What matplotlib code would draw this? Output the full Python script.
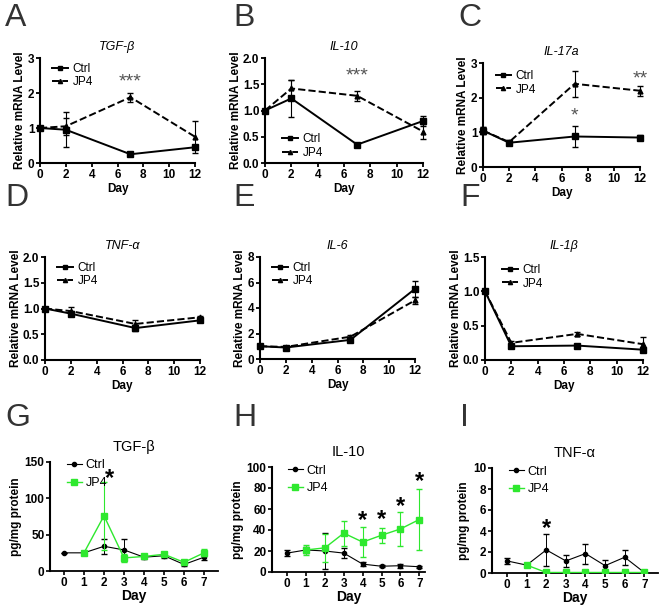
import numpy as np
import matplotlib
matplotlib.use('Agg')
import matplotlib.pyplot as plt
from matplotlib.lines import Line2D

plt.rcParams['font.family'] = ['Liberation Sans', 'DejaVu Sans']

# ---- mRNA panels (A-F): days 0, 2, 7, 12
days_mrna = [0, 2, 7, 12]

tgf_ctrl = [1.0, 0.95, 0.25, 0.45]
tgf_ctrl_err = [0.0, 0.5, 0.03, 0.06]
tgf_jp4 = [1.0, 1.05, 1.88, 0.75]
tgf_jp4_err = [0.0, 0.25, 0.13, 0.45]

il10_ctrl = [1.0, 1.23, 0.35, 0.8]
il10_ctrl_err = [0.0, 0.35, 0.02, 0.1]
il10_jp4 = [1.0, 1.42, 1.28, 0.6]
il10_jp4_err = [0.0, 0.16, 0.1, 0.15]

il17_ctrl = [1.05, 0.7, 0.88, 0.85]
il17_ctrl_err = [0.1, 0.05, 0.3, 0.07]
il17_jp4 = [1.05, 0.72, 2.4, 2.2]
il17_jp4_err = [0.1, 0.05, 0.37, 0.15]

tnf_ctrl = [1.0, 0.9, 0.62, 0.77]
tnf_ctrl_err = [0.0, 0.05, 0.05, 0.03]
tnf_jp4 = [1.0, 0.95, 0.7, 0.83]
tnf_jp4_err = [0.0, 0.07, 0.08, 0.03]

il6_ctrl = [1.0, 0.9, 1.5, 5.5]
il6_ctrl_err = [0.1, 0.05, 0.1, 0.6]
il6_jp4 = [1.0, 0.95, 1.75, 4.6]
il6_jp4_err = [0.1, 0.05, 0.1, 0.3]

il1_ctrl = [1.0, 0.2, 0.21, 0.15]
il1_ctrl_err = [0.0, 0.02, 0.01, 0.02]
il1_jp4 = [1.0, 0.25, 0.38, 0.23]
il1_jp4_err = [0.0, 0.02, 0.03, 0.1]

# ---- protein panels (G-I): days 0..7 (JP4 from day 1)
days_prot = [0, 1, 2, 3, 4, 5, 6, 7]
days_jp4 = [1, 2, 3, 4, 5, 6, 7]

g_ctrl = [25, 25, 34, 29, 19, 21, 9, 19]
g_ctrl_err = [0, 0, 10, 15, 3, 3, 2, 4]
g_jp4 = [25, 76, 18, 20, 23, 12, 25]
g_jp4_err = [0, 47, 6, 2, 3, 2, 5]

h_ctrl = [18, 21, 20, 18, 7.5, 5.5, 6, 5]
h_ctrl_err = [3, 3, 17, 5, 2, 1, 2, 1]
h_jp4 = [21, 23, 37, 28.5, 35, 41, 50]
h_jp4_err = [5, 13, 12, 14, 7, 16, 29]

i_ctrl = [1.15, 0.75, 2.2, 1.15, 1.85, 0.7, 1.5, 0.05]
i_ctrl_err = [0.3, 0.1, 1.5, 0.6, 0.95, 0.55, 0.7, 0]
i_jp4 = [0.75, 0.05, 0.05, 0.05, 0.05, 0.05, 0.05]
i_jp4_err = [0.1, 0, 0, 0, 0, 0, 0]

GREEN = '#2ee82e'
W, H = 660, 605
fig = plt.figure(figsize=(6.6, 6.05), dpi=100)


def px_axes(l, t, r, b):
    return fig.add_axes([l / W, 1 - b / H, (r - l) / W, (b - t) / H])


def letter(x, y, s):
    fig.text(x / W, 1 - y / H, s, fontsize=23, color='#333333', va='top', ha='left')


def mrna_panel(box, title, ctrl, ctrl_err, jp4, jp4_err, ylim, yticks, fmt, leg_xy):
    ax = px_axes(*box)
    ax.errorbar(days_mrna, ctrl, yerr=ctrl_err, color='black', lw=1.4, marker='s', ms=4,
                capsize=2.5, elinewidth=0.8, clip_on=False, zorder=3)
    ax.errorbar(days_mrna, jp4, yerr=jp4_err, color='black', lw=1.4, ls='--', marker='^', ms=3.5,
                capsize=2.5, elinewidth=0.8, clip_on=False, zorder=3)
    ax.set_xlim(0, 12)
    ax.set_xticks([0, 2, 4, 6, 8, 10, 12])
    ax.set_ylim(*ylim)
    ax.set_yticks(yticks)
    ax.set_yticklabels([fmt.format(v) for v in yticks])
    for s in ['top', 'right']:
        ax.spines[s].set_visible(False)
    for s in ['left', 'bottom']:
        ax.spines[s].set_linewidth(1.5)
    ax.tick_params(width=1.3, length=3, labelsize=8.5, pad=1)
    for lab in ax.get_xticklabels() + ax.get_yticklabels():
        lab.set_fontweight('bold')
    ax.set_xlabel('Day', fontsize=8.5, fontweight='bold', labelpad=2)
    ax.set_ylabel('Relative mRNA Level', fontsize=8.5, fontweight='bold', labelpad=1)
    ax.set_title(title, fontsize=9, style='italic', pad=6)
    handles = [Line2D([], [], color='black', lw=1.4, marker='s', ms=3.5),
               Line2D([], [], color='black', lw=1.4, ls='--', marker='^', ms=3)]
    ax.legend(handles, ['Ctrl', 'JP4'], loc='upper left', bbox_to_anchor=leg_xy, frameon=False,
              fontsize=8.5, handlelength=1.3, handletextpad=0.4, borderaxespad=0, labelspacing=0.15)
    return ax


def prot_panel(box, title, ctrl, ctrl_err, jp4, jp4_err, ylim, yticks, xlim):
    ax = px_axes(*box)
    ax.errorbar(days_prot, ctrl, yerr=ctrl_err, color='black', lw=0.8, marker='o', ms=3,
                capsize=2, elinewidth=0.7, zorder=3)
    ax.errorbar(days_jp4, jp4, yerr=jp4_err, color=GREEN, lw=1.0, marker='s', ms=4,
                capsize=2, elinewidth=0.8, zorder=4)
    ax.set_xlim(*xlim)
    ax.set_xticks(days_prot)
    ax.set_ylim(*ylim)
    ax.set_yticks(yticks)
    for s in ['top', 'right']:
        ax.spines[s].set_visible(False)
    ax.spines['left'].set_linewidth(1.5)
    ax.spines['bottom'].set_linewidth(1.3)
    ax.tick_params(width=1.2, length=3, labelsize=8.5, pad=1)
    for lab in ax.get_xticklabels() + ax.get_yticklabels():
        lab.set_fontweight('bold')
    ax.set_xlabel('Day', fontsize=10, fontweight='bold', labelpad=0)
    ax.set_ylabel('pg/mg protein', fontsize=8.5, fontweight='bold', labelpad=2)
    ax.set_title(title, fontsize=10.5, pad=8)
    handles = [Line2D([], [], color='black', lw=0.8, marker='o', ms=3),
               Line2D([], [], color=GREEN, lw=1.0, marker='s', ms=4)]
    ax.legend(handles, ['Ctrl', 'JP4'], loc='upper left', bbox_to_anchor=(0.07, 1.07),
              frameon=False, fontsize=9, handlelength=1.2, handletextpad=0.3,
              borderaxespad=0, labelspacing=0.45)
    return ax


# Row 1
ax = mrna_panel((40, 58, 195, 163), 'TGF-β', tgf_ctrl, tgf_ctrl_err, tgf_jp4, tgf_jp4_err,
                (0, 3), [0, 1, 2, 3], '{:.0f}', (0.05, 1.0))
ax.text(7, 2.2, '***', fontsize=14, color='#555555', ha='center')
ax = mrna_panel((265, 58, 423, 163), 'IL-10', il10_ctrl, il10_ctrl_err, il10_jp4, il10_jp4_err,
                (0, 2.0), [0, 0.5, 1.0, 1.5, 2.0], '{:.1f}', (0.08, 0.33))
ax.text(7, 1.58, '***', fontsize=14, color='#555555', ha='center')
ax = mrna_panel((483, 63, 640, 167), 'IL-17a', il17_ctrl, il17_ctrl_err, il17_jp4, il17_jp4_err,
                (0, 3), [0, 1, 2, 3], '{:.0f}', (0.05, 0.98))
ax.text(7, 1.35, '*', fontsize=14, color='#555555', ha='center')
ax.text(12, 2.4, '**', fontsize=14, color='#555555', ha='center')

# Row 2
mrna_panel((45, 257, 200, 360), 'TNF-α', tnf_ctrl, tnf_ctrl_err, tnf_jp4, tnf_jp4_err,
           (0, 2.0), [0, 0.5, 1.0, 1.5, 2.0], '{:.1f}', (0.05, 1.0))
mrna_panel((260, 257, 415, 359), 'IL-6', il6_ctrl, il6_ctrl_err, il6_jp4, il6_jp4_err,
           (0, 8), [0, 2, 4, 6, 8], '{:.0f}', (0.05, 1.0))
mrna_panel((485, 257, 643, 360), 'IL-1β', il1_ctrl, il1_ctrl_err, il1_jp4, il1_jp4_err,
           (0, 1.5), [0, 0.5, 1.0, 1.5], '{:.1f}', (0.08, 0.98))

# Row 3
ax = prot_panel((50, 462, 218, 571), 'TGF-β', g_ctrl, g_ctrl_err, g_jp4, g_jp4_err,
                (0, 150), [0, 50, 100, 150], (-0.7, 7.7))
ax.text(2.3, 118, '*', fontsize=17, fontweight='bold', ha='center')
ax = prot_panel((272, 467, 425, 572), 'IL-10', h_ctrl, h_ctrl_err, h_jp4, h_jp4_err,
                (0, 100), [0, 20, 40, 60, 80, 100], (-0.8, 7.3))
for d, y in zip([4, 5, 6, 7], [43, 44, 56, 80]):
    ax.text(d, y, '*', fontsize=17, fontweight='bold', ha='center')
ax = prot_panel((492, 468, 658, 573), 'TNF-α', i_ctrl, i_ctrl_err, i_jp4, i_jp4_err,
                (0, 10), [0, 2, 4, 6, 8, 10], (-0.77, 7.7))
ax.text(2, 3.6, '*', fontsize=17, fontweight='bold', ha='center')

# Panel letters
letter(5, 3, 'A')
letter(233, 3, 'B')
letter(458, 3, 'C')
letter(5, 183, 'D')
letter(233, 183, 'E')
letter(460, 183, 'F')
letter(5, 403, 'G')
letter(233, 403, 'H')
letter(460, 403, 'I')

fig.savefig('out.png', dpi=100)
